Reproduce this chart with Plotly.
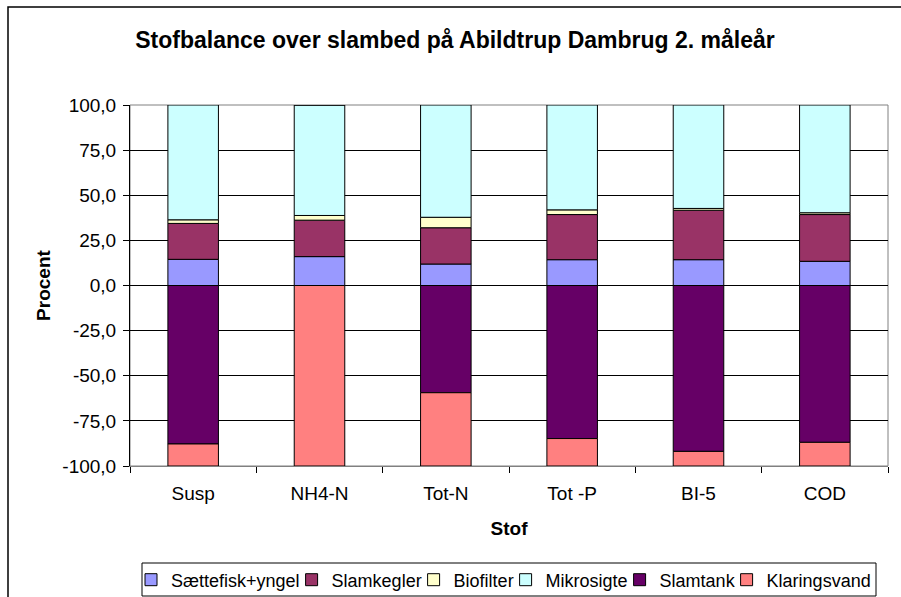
import plotly.graph_objects as go

categories = ["Susp", "NH4-N", "Tot-N", "Tot -P", "BI-5", "COD"]
saettefisk = [14.5, 16.0, 11.9, 14.3, 14.3, 13.4]
slamkegler = [19.9, 20.2, 20.1, 25.0, 27.4, 25.9]
biofilter = [2.0, 2.6, 5.8, 2.6, 1.0, 1.0]
mikrosigte = [63.6, 61.2, 62.2, 58.1, 57.3, 59.7]
slamtank = [-87.8, 0.0, -59.4, -84.8, -91.9, -86.9]
klaringsvand = [-12.2, -100.0, -40.6, -15.2, -8.1, -13.1]

tick_vals = [-100, -75, -50, -25, 0, 25, 50, 75, 100]
tick_labels = ["-100,0", "-75,0", "-50,0", "-25,0", "0,0", "25,0", "50,0", "75,0", "100,0"]

series_names = ["Sættefisk+yngel", "Slamkegler", "Biofilter", "Mikrosigte", "Slamtank", "Klaringsvand"]
series_values = [saettefisk, slamkegler, biofilter, mikrosigte, slamtank, klaringsvand]
series_colors = ["#9999FF", "#993366", "#FFFFCC", "#CCFFFF", "#660066", "#FF8080"]

FONT = "Liberation Sans, Arial, sans-serif"

# plot area in pixels
L, R, T, B = 130, 888, 105, 466
PW, PH = R - L, B - T

def px(xp):
    return (xp - L) / PW

def py(yp):
    return (B - yp) / PH

# left edges (pixels) of the legend entries
legend_left_x = [131, 291.6, 413.6, 505.6, 619.6, 726.6]
legend_y_mid = 580

fig = go.Figure()
legend_layouts = {}
for i, (name, vals, color) in enumerate(zip(series_names, series_values, series_colors)):
    lname = "legend" if i == 0 else f"legend{i + 1}"
    fig.add_trace(go.Bar(
        x=categories, y=vals, name=name,
        marker=dict(color=color, line=dict(color="black", width=1)),
        width=0.4,
        legend=lname,
    ))
    legend_layouts[lname] = dict(
        orientation="h",
        x=px(legend_left_x[i]), xanchor="left", xref="paper",
        y=py(legend_y_mid), yanchor="middle", yref="paper",
        bgcolor="rgba(0,0,0,0)", borderwidth=0,
        font=dict(family=FONT, size=18, color="black"),
        itemwidth=30,
    )

fig.update_layout(
    width=901, height=597,
    barmode="relative",
    paper_bgcolor="white", plot_bgcolor="white",
    margin=dict(l=L, r=901 - R, t=T, b=597 - B, autoexpand=False),
    font=dict(family=FONT, size=19, color="black"),
    title=dict(
        text="Stofbalance over slambed på Abildtrup Dambrug 2. måleår",
        font=dict(family=FONT, size=23, color="black", weight="bold"),
        x=455 / 901, xanchor="center", xref="container",
        y=1 - 40 / 597, yanchor="middle", yref="container",
    ),
    showlegend=True,
    xaxis=dict(
        type="category", automargin=False,
        tickson="boundaries", ticks="outside", ticklen=6, tickcolor="black",
        showline=True, linecolor="#808080", linewidth=1,
        showgrid=False,
        tickfont=dict(family=FONT, size=19),
        ticklabelstandoff=10,
        title=dict(text="Stof", font=dict(family=FONT, size=19, weight="bold"), standoff=18),
    ),
    yaxis=dict(
        range=[-100, 100], automargin=False,
        tickmode="array", tickvals=tick_vals, ticktext=tick_labels,
        ticks="outside", ticklen=6, tickcolor="black",
        showline=True, linecolor="black", linewidth=1,
        showgrid=True, gridcolor="black", gridwidth=1,
        zeroline=True, zerolinecolor="black", zerolinewidth=1,
        tickfont=dict(family=FONT, size=19),
        ticklabelstandoff=3,
        title=dict(text="Procent", font=dict(family=FONT, size=19, weight="bold"), standoff=6),
    ),
    shapes=[
        dict(type="rect", xref="paper", yref="paper", x0=0, x1=1, y0=0, y1=1,
             line=dict(color="#808080", width=1), layer="below"),
        dict(type="rect", xref="paper", yref="paper",
             x0=px(142), x1=px(876), y0=py(596), y1=py(563),
             line=dict(color="black", width=1), layer="above"),
        dict(type="rect", xref="paper", yref="paper",
             x0=px(8), x1=px(960), y0=py(660), y1=py(7),
             line=dict(color="black", width=1.5), layer="above"),
    ],
    **legend_layouts,
)

fig.write_html(
    "out.html",
    config={"displayModeBar": False},
    post_script="document.body.style.margin='0';document.body.style.overflow='hidden';",
)
